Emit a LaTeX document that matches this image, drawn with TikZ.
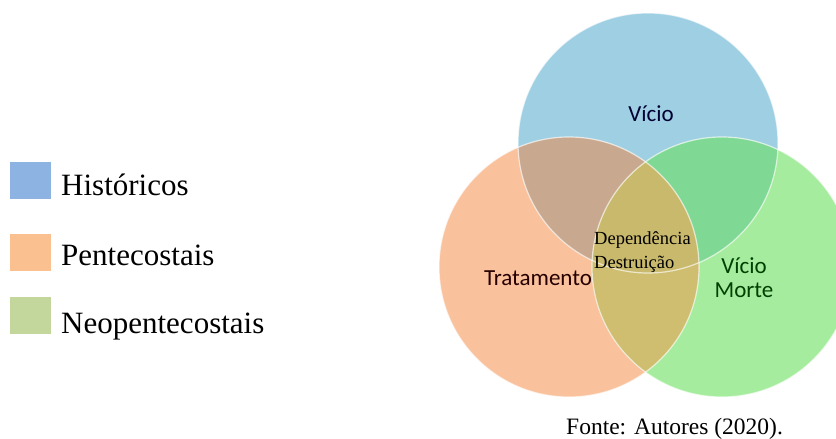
\documentclass[tikz,border=0pt]{standalone}
\usepackage{fontspec}
\setmainfont{Liberation Serif}
\newfontfamily\calib{Carlito}
\definecolor{cB}{HTML}{9FCFE3}
\definecolor{cO}{HTML}{F9C19C}
\definecolor{cG}{HTML}{A6EC9E}
\definecolor{cBO}{HTML}{C8A98F}
\definecolor{cBG}{HTML}{7FD894}
\definecolor{cOG}{HTML}{CFBE70}
\definecolor{cBOG}{HTML}{C9B96C}
\definecolor{lB}{HTML}{8DB3E2}
\definecolor{lO}{HTML}{FAC090}
\definecolor{lG}{HTML}{C3D69B}
\begin{document}
\begin{tikzpicture}[x=1pt,y=-1pt,
  legsq/.style={minimum width=41pt,minimum height=37pt,inner sep=0pt,anchor=north west},
  legtxt/.style={anchor=base west,inner sep=0pt,font=\fontsize{31}{37}\selectfont},
  clab/.style={font=\calib\fontsize{23}{25}\selectfont,align=center,inner sep=0pt},
  rim/.style={draw=white,draw opacity=0.65,line width=1.2pt}]
\useasboundingbox[fill=white] (0,0) rectangle (836,439);
\coordinate (T) at (648,143);
\coordinate (L) at (569,267);
\coordinate (R) at (722,267);
% base circles
\fill[cB] (T) circle (130pt);
\fill[cO] (L) circle (130pt);
\fill[cG] (R) circle (130pt);
% overlaps
\begin{scope}\clip (T) circle (130pt); \fill[cBO] (L) circle (130pt);\end{scope}
\begin{scope}\clip (T) circle (130pt); \fill[cBG] (R) circle (130pt);\end{scope}
\begin{scope}\clip (L) circle (130pt); \fill[cOG] (R) circle (130pt);\end{scope}
\begin{scope}\clip (T) circle (130pt); \clip (L) circle (130pt); \fill[cBOG] (R) circle (130pt);\end{scope}
\draw[rim] (T) circle (130pt);
\draw[rim] (L) circle (130pt);
\draw[rim] (R) circle (130pt);
% circle labels
\node[clab,text=black!80!blue] (vicio) at (651,114) {Vício};
\node[clab,text=black!85!red] (trat) at (538,278) {Tratamento};
\node[clab,text=black!75!green,align=center] (vm) at (744,278) {Vício\\[-1pt]Morte};
\node[anchor=west,inner sep=0pt,align=left,font=\fontsize{18.5}{24}\selectfont] (dd) at (594,252) {Dependência\\Destruição};
% legend
\node[legsq,fill=lB] (s1) at (10,162) {};
\node[legsq,fill=lO] (s2) at (10,234) {};
\node[legsq,fill=lG] (s3) at (10,297) {};
\node[legtxt] (t1) at (61,195) {Históricos};
\node[legtxt] (t2) at (61,265) {Pentecostais};
\node[legtxt] (t3) at (61,333) {Neopentecostais};
% source
\node[anchor=base west,inner sep=0pt,font=\fontsize{23.5}{26}\selectfont] (src) at (566,434) {Fonte: Autores (2020).};
\end{tikzpicture}
\end{document}
